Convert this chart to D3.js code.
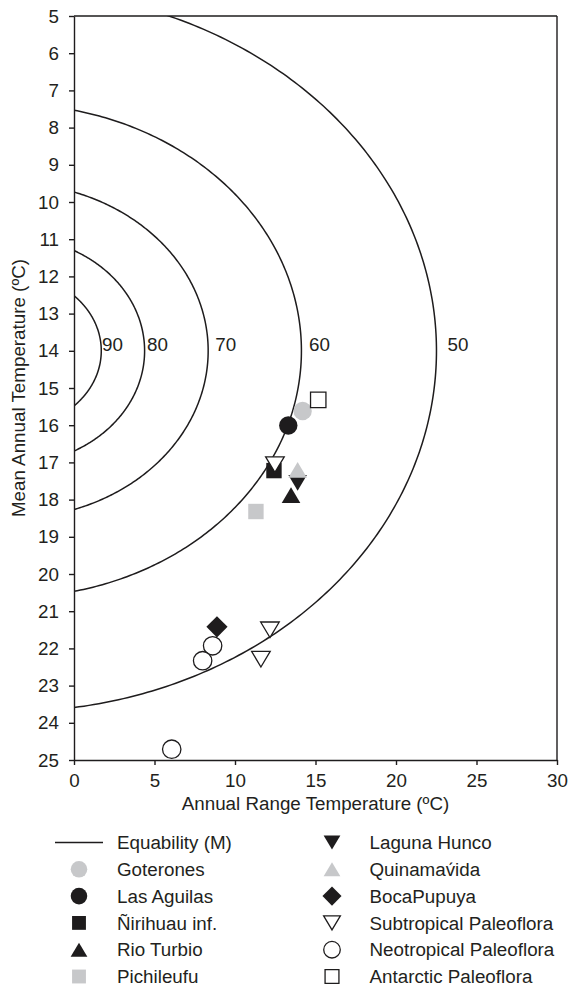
<!DOCTYPE html>
<html>
<head>
<meta charset="utf-8">
<script src="https://cdn.jsdelivr.net/npm/d3@7"></script>
<style>
  html, body { margin: 0; padding: 0; background: #fff; }
  svg { display: block; }
  text { font-family: "Liberation Sans", Arial, sans-serif; fill: #231f20; }
</style>
</head>
<body>
<svg id="chart" width="568" height="990"></svg>
<script>
// ---------------- data ----------------
const xTickValues = [0, 5, 10, 15, 20, 25, 30];
const yTickValues = [5, 6, 7, 8, 9, 10, 11, 12, 13, 14, 15, 16, 17, 18, 19, 20, 21, 22, 23, 24, 25];

// Equability (M) contours
const contourLevels = [90, 80, 70, 60, 50];
const contourRadius = [2.08, 3.065, 4.51, 6.63, 9.7];
const contourLabelA = [1.74, 4.54, 8.77, 14.6, 23.2];
const contourLabelT = 13.82;
// Bailey-type equability geometry: (T - 14)^2 + (1.46 + 0.366 A)^2 = r^2
const equabilityCentreT = 14;
const equabilityOffset = 1.46;
const equabilitySlope = 0.366;

// sites: name, range (A) values, mean (T) values
const siteNames = ["Goterones", "Las Aguilas", "\u00d1irihuau inf.", "Rio Turbio", "Pichileufu",
                   "Laguna Hunco", "Quinamav\u0301ida", "BocaPupuya", "Subtropical Paleoflora",
                   "Neotropical Paleoflora", "Antarctic Paleoflora"];
const goteronesA = [14.2],   goteronesT = [15.62];
const lasAguilasA = [13.31], lasAguilasT = [16.01];
const nirihuauA = [12.42],   nirihuauT = [17.22];
const rioTurbioA = [13.48],  rioTurbioT = [17.88];
const pichileufuA = [11.3],  pichileufuT = [18.32];
const lagunaHuncoA = [13.89], lagunaHuncoT = [17.55];
const quinamavidaA = [13.89], quinamavidaT = [17.2];
const bocaPupuyaA = [8.88],  bocaPupuyaT = [21.42];
const subtropicalA = [12.48, 12.17, 11.61], subtropicalT = [17.06, 21.5, 22.29];
const neotropicalA = [8.61, 7.99, 6.07],    neotropicalT = [21.93, 22.33, 24.71];
const antarcticA = [15.17],  antarcticT = [15.32];

const siteA = [goteronesA, lasAguilasA, nirihuauA, rioTurbioA, pichileufuA, lagunaHuncoA,
               quinamavidaA, bocaPupuyaA, subtropicalA, neotropicalA, antarcticA];
const siteT = [goteronesT, lasAguilasT, nirihuauT, rioTurbioT, pichileufuT, lagunaHuncoT,
               quinamavidaT, bocaPupuyaT, subtropicalT, neotropicalT, antarcticT];

// ---------------- styles ----------------
const BLACK = "#1e1c1d", GREY = "#c7c8ca";
const siteStyle = [
  {shape: "circle",  fill: GREY,  stroke: "none"},
  {shape: "circle",  fill: BLACK, stroke: "none"},
  {shape: "square",  fill: BLACK, stroke: "none"},
  {shape: "triUp",   fill: BLACK, stroke: "none"},
  {shape: "square",  fill: GREY,  stroke: "none"},
  {shape: "triDown", fill: BLACK, stroke: "none"},
  {shape: "triUp",   fill: GREY,  stroke: "none"},
  {shape: "diamond", fill: BLACK, stroke: "none"},
  {shape: "triDown", fill: "#fff", stroke: BLACK},
  {shape: "circle",  fill: "#fff", stroke: BLACK},
  {shape: "square",  fill: "#fff", stroke: BLACK}
];

function shapePath(shape, s) {
  const p = d3.path();
  if (shape === "circle") {
    const r = 9.2 * s; p.moveTo(r, 0); p.arc(0, 0, r, 0, 2 * Math.PI);
  } else if (shape === "square") {
    const h = 7.7 * s; p.rect(-h, -h, 2 * h, 2 * h);
  } else if (shape === "triUp") {
    const w = 9.3 * s, h = 7.8 * s; p.moveTo(0, -h); p.lineTo(w, h); p.lineTo(-w, h); p.closePath();
  } else if (shape === "triDown") {
    const w = 9.3 * s, h = 7.8 * s; p.moveTo(0, h); p.lineTo(w, -h); p.lineTo(-w, -h); p.closePath();
  } else if (shape === "diamond") {
    const h = 10.6 * s; p.moveTo(0, -h); p.lineTo(h, 0); p.lineTo(0, h); p.lineTo(-h, 0); p.closePath();
  }
  return p.toString();
}

// ---------------- layout ----------------
const svg = d3.select("#chart");
const x = d3.scaleLinear().domain([0, 30]).range([74, 557]);
const y = d3.scaleLinear().domain([5, 25]).range([16, 760]);
const FONT = 18.8;

svg.append("defs").append("clipPath").attr("id", "plotclip")
  .append("rect").attr("x", x(0)).attr("y", y(5)).attr("width", x(30) - x(0)).attr("height", y(25) - y(5));

// contours
const line = d3.line().x(d => x(d[0])).y(d => y(d[1]));
const cg = svg.append("g").attr("clip-path", "url(#plotclip)");
contourLevels.forEach((lev, i) => {
  const r = contourRadius[i];
  const tMax = Math.acos(equabilityOffset / r);
  const pts = [];
  const n = 240;
  for (let k = 0; k <= n; k++) {
    const th = -tMax + (2 * tMax) * k / n;
    const A = (r * Math.cos(th) - equabilityOffset) / equabilitySlope;
    const T = equabilityCentreT + r * Math.sin(th);
    pts.push([Math.max(0, A), T]);
  }
  cg.append("path").attr("d", line(pts)).attr("fill", "none")
    .attr("stroke", BLACK).attr("stroke-width", 1.5);
  svg.append("text").attr("x", x(contourLabelA[i])).attr("y", y(contourLabelT))
    .attr("dy", "0.36em").attr("font-size", FONT).text(lev);
});

// frame (top and right)
svg.append("line").attr("x1", x(0)).attr("x2", x(30)).attr("y1", y(5)).attr("y2", y(5))
  .attr("stroke", BLACK).attr("stroke-width", 1.4);
svg.append("line").attr("x1", x(30)).attr("x2", x(30)).attr("y1", y(5)).attr("y2", y(25))
  .attr("stroke", BLACK).attr("stroke-width", 1.4);

// axes
const xAxis = d3.axisBottom(x).tickValues(xTickValues).tickSize(5).tickPadding(9).tickSizeOuter(0);
const yAxis = d3.axisLeft(y).tickValues(yTickValues).tickSize(5).tickPadding(10).tickSizeOuter(0);
const gx = svg.append("g").attr("transform", `translate(0,${y(25)})`).call(xAxis);
const gy = svg.append("g").attr("transform", `translate(${x(0)},0)`).call(yAxis);
[gx, gy].forEach(g => {
  g.select(".domain").attr("stroke", BLACK).attr("stroke-width", 1.4);
  g.selectAll(".tick line").attr("stroke", BLACK).attr("stroke-width", 1.4);
  g.selectAll(".tick text").attr("font-size", FONT).attr("font-family", "Liberation Sans, Arial, sans-serif").attr("fill", "#231f20");
});

// axis titles
svg.append("text").attr("x", (x(0) + x(30)) / 2).attr("y", 809.5)
  .attr("text-anchor", "middle").attr("font-size", FONT).text("Annual Range Temperature (\u00baC)");
svg.append("text").attr("transform", `translate(25,${(y(5) + y(25)) / 2}) rotate(-90)`)
  .attr("text-anchor", "middle").attr("font-size", FONT).text("Mean Annual Temperature (\u00baC)");

// points
const pg = svg.append("g");
siteNames.forEach((name, i) => {
  const st = siteStyle[i];
  siteA[i].forEach((a, j) => {
    pg.append("path").attr("d", shapePath(st.shape, 1))
      .attr("transform", `translate(${x(a)},${y(siteT[i][j])})`)
      .attr("fill", st.fill).attr("stroke", st.stroke).attr("stroke-width", 1.3);
  });
});

// legend
const lg = svg.append("g");
const rowY0 = 842.5, rowStep = 26.8;
const legendItems = [{name: "Equability (M)", line: true}].concat(siteNames.map((n, i) => ({name: n, idx: i})));
legendItems.forEach((it, k) => {
  const col = k < 6 ? 0 : 1;
  const row = k < 6 ? k : k - 6;
  const cy = rowY0 + row * rowStep;
  const mx = col === 0 ? 79 : 332;
  const tx = col === 0 ? 117 : 369.5;
  if (it.line) {
    lg.append("line").attr("x1", 55).attr("x2", 103).attr("y1", cy).attr("y2", cy)
      .attr("stroke", BLACK).attr("stroke-width", 1.4);
  } else {
    const st = siteStyle[it.idx];
    lg.append("path").attr("d", shapePath(st.shape, 0.9))
      .attr("transform", `translate(${mx},${cy})`)
      .attr("fill", st.fill).attr("stroke", st.stroke).attr("stroke-width", 1.3);
  }
  lg.append("text").attr("x", tx).attr("y", cy).attr("dy", "0.36em")
    .attr("font-size", FONT).text(it.name);
});
</script>
</body>
</html>
